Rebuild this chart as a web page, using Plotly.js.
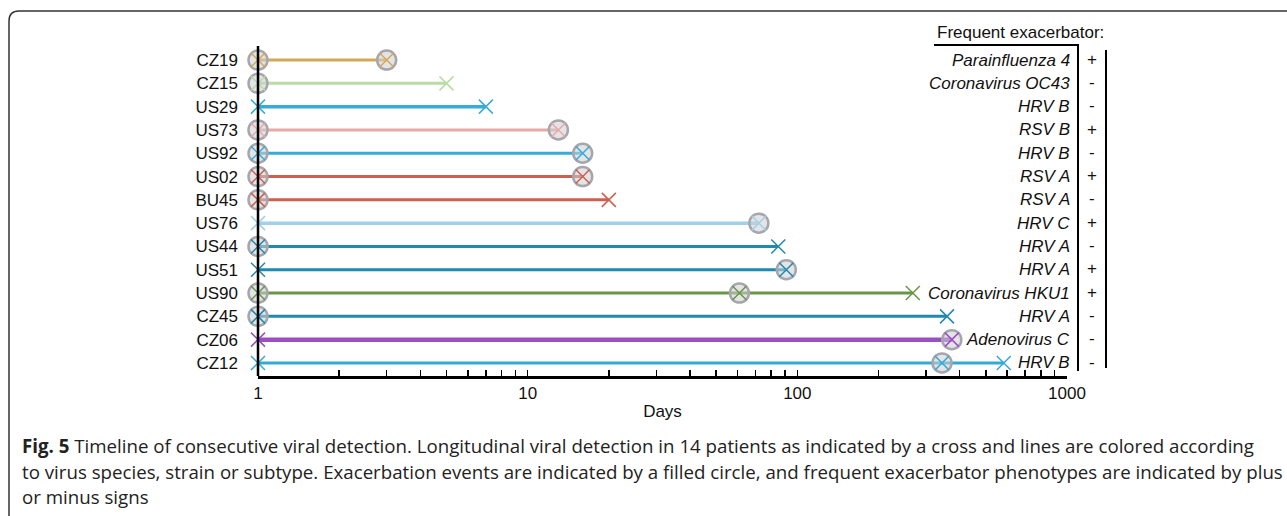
<!DOCTYPE html>
<html>
<head>
<meta charset="utf-8">
<script src="https://cdn.plot.ly/plotly-3.0.1.min.js"></script>
<style>
  html, body { margin: 0; padding: 0; background: #fff; }
  #chart { width: 1287px; height: 516px; }
</style>
</head>
<body>
<div id="chart"></div>
<script>
// ---- data ----
const patients = ['CZ19','CZ15','US29','US73','US92','US02','BU45','US76','US44','US51','US90','CZ45','CZ06','CZ12'];
const viruses = ['Parainfluenza 4','Coronavirus OC43','HRV B','RSV B','HRV B','RSV A','RSV A','HRV C','HRV A','HRV A','Coronavirus HKU1','HRV A','Adenovirus C','HRV B'];
const frequent = ['+','-','-','+','-','+','-','+','-','+','+','-','-','-'];
// days of viral detection (crosses)
const detections = [
  [1,3],[1,5],[1,7],[1,13],[1,16],[1,16],[1,20],[1,72],[1,85],[1,91],[1,61,268],[1,359],[1,374],[1,344,583]
];
// days of exacerbation events (circles)
const exacerbations = [
  [1,3],[1],[],[1,13],[1,16],[1,16],[1],[72],[1],[91],[1,61],[1],[374],[344]
];
const xTickLabels = ['1','10','100','1000'];
const captionLines = [
  '<b>Fig. 5</b> Timeline of consecutive viral detection. Longitudinal viral detection in 14 patients as indicated by a cross and lines are colored according',
  'to virus species, strain or subtype. Exacerbation events are indicated by a filled circle, and frequent exacerbator phenotypes are indicated by plus',
  'or minus signs'
];

// ---- styles ----
const lineColors = ['#d4a955','#badca5','#36acd6','#e9a9a5','#36acd6','#cc6152','#cc6152','#a0d0ea','#2089ad','#2089ad','#6b9548','#2089ad','#9b4fc0','#34a9d4'];
const lineWidths = [3,3,3.5,3,3,3,3,3.5,3,3,3,3,4.5,3];

// pixel geometry helpers (plot area)
const L = 258, R = 1067, T = 47, B = 376;
const px = v => (v - L) / (R - L);
const py = v => (B - v) / (B - T);

const n = patients.length;
const rowY = i => n - 1 - i;

const traces = [];
patients.forEach((p, i) => {
  const d = detections[i].concat(exacerbations[i]);
  traces.push({
    x: [Math.min(...d), Math.max(...d)],
    y: [rowY(i), rowY(i)],
    mode: 'lines', cliponaxis: false,
    line: {color: lineColors[i], width: lineWidths[i]},
    hoverinfo: 'skip', showlegend: false
  });
});
// exacerbation circles
const cx = [], cy = [];
exacerbations.forEach((arr, i) => arr.forEach(v => { cx.push(v); cy.push(rowY(i)); }));
traces.push({
  x: cx, y: cy, mode: 'markers', showlegend: false, hoverinfo: 'skip', cliponaxis: false,
  marker: {symbol: 'circle', size: 19, color: 'rgba(205,205,212,0.55)', line: {color: '#a6a6ad', width: 2.5}}
});
// detection crosses
const dx = [], dy = [], dc = [];
detections.forEach((arr, i) => arr.forEach(v => { dx.push(v); dy.push(rowY(i)); dc.push(lineColors[i]); }));
traces.push({
  x: dx, y: dy, mode: 'markers', showlegend: false, hoverinfo: 'skip', cliponaxis: false,
  marker: {symbol: 'x-thin-open', size: 14, color: dc, line: {color: dc, width: 1.5}}
});

// ticks
const tickvals = [], ticktext = [];
for (let k = 0; k < 3; k++) {
  for (let m = 1; m <= 9; m++) {
    const v = m * Math.pow(10, k);
    tickvals.push(v);
    ticktext.push(m === 1 ? xTickLabels[k] : '');
  }
}
tickvals.push(1000); ticktext.push(xTickLabels[3]);

const font = 'Liberation Sans, Arial, sans-serif';
const fs = 17;
const annotations = [];
patients.forEach((p, i) => {
  annotations.push({
    xref: 'paper', yref: 'y', x: px(1072), y: rowY(i), xanchor: 'right', yanchor: 'middle',
    text: '<i>' + viruses[i] + '</i>', showarrow: false, font: {family: font, size: fs, color: '#111'}
  });
  annotations.push({
    xref: 'paper', yref: 'y', x: px(1092), y: rowY(i) + 0.04, xanchor: 'center', yanchor: 'middle',
    text: frequent[i], showarrow: false, font: {family: font, size: fs, color: '#111'}
  });
});
annotations.push({
  xref: 'paper', yref: 'paper', x: px(1020), y: py(33), xanchor: 'center', yanchor: 'middle',
  text: 'Frequent exacerbator:', showarrow: false, font: {family: font, size: fs, color: '#111'}
});
const capY = [445, 471, 497];
captionLines.forEach((t, k) => {
  annotations.push({
    xref: 'paper', yref: 'paper', x: px(20), y: py(capY[k]), xanchor: 'left', yanchor: 'middle',
    text: t, showarrow: false, font: {family: 'Open Sans, sans-serif', size: 18.7, color: '#222'}
  });
});

const shapes = [
  // right-side table lines
  {type: 'line', xref: 'paper', yref: 'paper', x0: px(1078), x1: px(1078), y0: py(44), y1: py(371), line: {color: '#000', width: 2}},
  {type: 'line', xref: 'paper', yref: 'paper', x0: px(1106), x1: px(1106), y0: py(50), y1: py(368), line: {color: '#000', width: 2}},
  {type: 'line', xref: 'paper', yref: 'paper', x0: px(934), x1: px(1078), y0: py(45), y1: py(45), line: {color: '#000', width: 2}},
  // y axis line
  {type: 'line', xref: 'paper', yref: 'paper', x0: 0, x1: 0, y0: 0, y1: py(46), line: {color: '#000', width: 2.5}},
  // figure frame with rounded corner
  {type: 'path', xref: 'paper', yref: 'paper',
   path: `M ${px(9)},${py(530)} L ${px(9)},${py(21)} Q ${px(9)},${py(11)} ${px(19)},${py(11)} L ${px(1300)},${py(11)}`,
   line: {color: '#333', width: 1.5}}
];

const layout = {
  width: 1287, height: 516,
  margin: {l: L, r: 1287 - R, t: T, b: 516 - B, pad: 0},
  paper_bgcolor: '#fff', plot_bgcolor: '#fff',
  showlegend: false,
  xaxis: {
    type: 'log', range: [0, 3], showgrid: false, zeroline: false,
    showline: true, linecolor: '#000', linewidth: 2.5,
    tickmode: 'array', tickvals: tickvals, ticktext: ticktext,
    ticks: 'inside', ticklen: 6, tickwidth: 1.5, tickcolor: '#000',
    tickfont: {family: font, size: fs, color: '#111'},
    title: {text: 'Days', font: {family: font, size: fs, color: '#111'}, standoff: 3}
  },
  yaxis: {
    range: [-0.56, 13.56], showgrid: false, zeroline: false, showline: false,
    tickmode: 'array', tickvals: patients.map((p, i) => rowY(i)), ticktext: patients,
    ticks: '', ticklabelstandoff: 19,
    tickfont: {family: font, size: fs, color: '#111'}
  },
  annotations: annotations,
  shapes: shapes
};

Plotly.newPlot('chart', traces, layout, {displayModeBar: false, staticPlot: true});
</script>
</body>
</html>
